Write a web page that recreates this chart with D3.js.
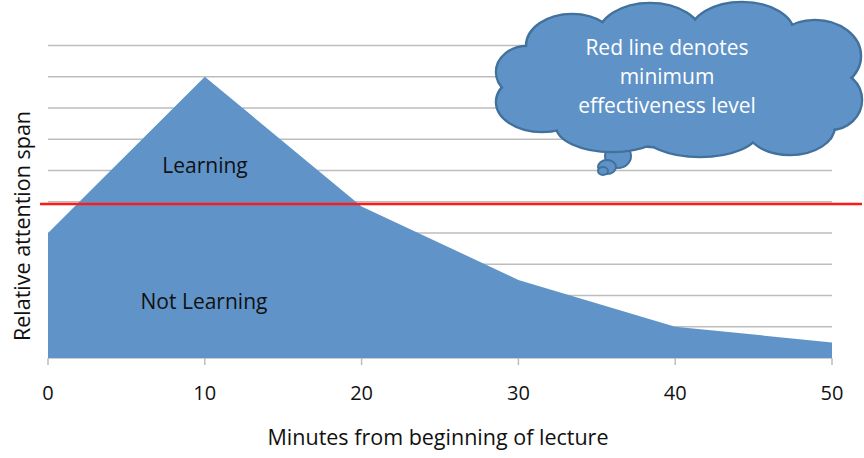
<!DOCTYPE html>
<meta charset="utf-8">
<style>
body { margin: 0; background: #fff; }
text { font-family: "Open Sans", sans-serif; }
.grid line { stroke: #bdbdbd; stroke-width: 1.5; }
.tick-mark { stroke: #bdbdbd; stroke-width: 1.5; }
</style>
<svg width="864" height="458"></svg>
<script src="https://cdn.jsdelivr.net/npm/d3@7"></script>
<script>

// data
var minutes = [0, 10, 20, 30, 40, 50];
var attention = [4, 9, 4.85, 2.5, 1, 0.5];
var xTicks = [0, 10, 20, 30, 40, 50];
var gridLevels = [0, 1, 2, 3, 4, 5, 6, 7, 8, 9, 10];
var minLevel = 4.93;
var cloudLines = ["Red line denotes", "minimum", "effectiveness level"];

var svg = d3.select("svg"),
    width = +svg.attr("width"),
    height = +svg.attr("height");

var x = d3.scaleLinear().domain([0, 50]).range([48, 832]);
var y = d3.scaleLinear().domain([0, 10]).range([358, 45.5]);

// gridlines
svg.append("g").attr("class", "grid")
  .selectAll("line")
  .data(gridLevels)
  .enter().append("line")
    .attr("x1", x(0)).attr("x2", x(50))
    .attr("y1", function(d) { return y(d); })
    .attr("y2", function(d) { return y(d); });

// x tick marks + labels
svg.append("g")
  .selectAll("line")
  .data(xTicks)
  .enter().append("line")
    .attr("class", "tick-mark")
    .attr("x1", function(d) { return x(d); })
    .attr("x2", function(d) { return x(d); })
    .attr("y1", y(0)).attr("y2", y(0) + 7);

svg.append("g")
  .selectAll("text")
  .data(xTicks)
  .enter().append("text")
    .attr("x", function(d) { return x(d); })
    .attr("y", 400)
    .attr("text-anchor", "middle")
    .attr("font-size", 20)
    .attr("fill", "#111")
    .text(function(d) { return d; });

// area
var area = d3.area()
    .x(function(d, i) { return x(minutes[i]); })
    .y0(y(0))
    .y1(function(d) { return y(d); });

svg.append("path")
    .datum(attention)
    .attr("fill", "#6094c9")
    .attr("d", area);

// minimum effectiveness line
svg.append("line")
    .attr("x1", 40).attr("x2", 862)
    .attr("y1", y(minLevel)).attr("y2", y(minLevel))
    .attr("stroke", "#ff1a1a")
    .attr("stroke-width", 2.5);

// area labels
svg.append("text")
    .attr("x", 205).attr("y", 173)
    .attr("text-anchor", "middle")
    .attr("font-size", 21)
    .attr("fill", "#111")
    .text("Learning");

svg.append("text")
    .attr("x", 204).attr("y", 309)
    .attr("text-anchor", "middle")
    .attr("font-size", 21)
    .attr("fill", "#111")
    .text("Not Learning");

// axis titles
svg.append("text")
    .attr("x", 438).attr("y", 445)
    .attr("text-anchor", "middle")
    .attr("font-size", 21.5)
    .attr("fill", "#111")
    .text("Minutes from beginning of lecture");

svg.append("text")
    .attr("transform", "translate(30,226) rotate(-90)")
    .attr("text-anchor", "middle")
    .attr("font-size", 21.5)
    .attr("fill", "#111")
    .text("Relative attention span");

// thought cloud
var puffs = [
  [680, 90, 150, 58],
  [572, 46, 46, 32],
  [650, 36, 52, 33],
  [742, 33, 52, 31],
  [815, 56, 46, 36],
  [830, 100, 32, 30],
  [790, 126, 45, 29],
  [700, 132, 58, 25],
  [612, 126, 56, 26],
  [542, 102, 46, 30],
  [527, 72, 31, 26]
];
var bubbles = [[618, 156, 13, 12], [607, 167, 9, 7], [603, 171, 5, 4]];

var cloud = svg.append("g");
var cloudFill = "#5f93c8", cloudStroke = "#41719c";

cloud.selectAll(".bub")
  .data(bubbles)
  .enter().append("ellipse")
    .attr("cx", function(d) { return d[0]; })
    .attr("cy", function(d) { return d[1]; })
    .attr("rx", function(d) { return d[2]; })
    .attr("ry", function(d) { return d[3]; })
    .attr("fill", cloudFill)
    .attr("stroke", cloudStroke)
    .attr("stroke-width", 2);

cloud.selectAll(".outline")
  .data(puffs)
  .enter().append("ellipse")
    .attr("cx", function(d) { return d[0]; })
    .attr("cy", function(d) { return d[1]; })
    .attr("rx", function(d) { return d[2]; })
    .attr("ry", function(d) { return d[3]; })
    .attr("fill", cloudFill)
    .attr("stroke", cloudStroke)
    .attr("stroke-width", 2.5);

cloud.selectAll(".inner")
  .data(puffs)
  .enter().append("ellipse")
    .attr("cx", function(d) { return d[0]; })
    .attr("cy", function(d) { return d[1]; })
    .attr("rx", function(d) { return d[2] - 1.2; })
    .attr("ry", function(d) { return d[3] - 1.2; })
    .attr("fill", cloudFill);

cloud.selectAll("text")
  .data(cloudLines)
  .enter().append("text")
    .attr("x", 667)
    .attr("y", function(d, i) { return 55 + i * 29; })
    .attr("text-anchor", "middle")
    .attr("font-size", 21)
    .attr("fill", "#fff")
    .text(function(d) { return d; });

</script>
